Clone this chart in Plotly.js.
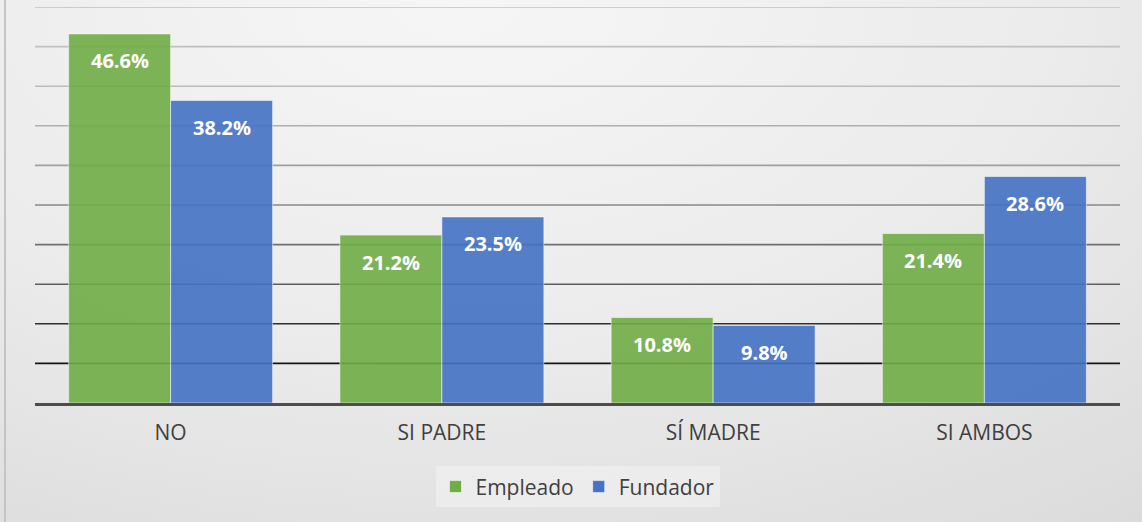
<!DOCTYPE html>
<html><head><meta charset="utf-8">
<script src="https://cdn.plot.ly/plotly-3.0.1.min.js"></script>
<style>
html,body{margin:0;padding:0;}
#wrap{position:relative;width:1142px;height:522px;background:radial-gradient(ellipse 120% 150% at 40% 0%, #f6f6f6 0%, #ebebeb 45%, #d4d4d4 100%);overflow:hidden}
#edge{position:absolute;left:4px;top:0;width:2px;height:522px;background:#c4c4c4}
#chart{position:absolute;left:0;top:0;width:1142px;height:522px}
</style></head><body>
<div id="wrap"><div id="edge"></div><div id="chart"></div></div>
<script>
const categories = ['NO', 'SI PADRE', 'SÍ MADRE', 'SI AMBOS'];
const empleado = [46.6, 21.2, 10.8, 21.4];
const fundador = [38.2, 23.5, 9.8, 28.6];
const seriesNames = ['Empleado', 'Fundador'];
const gridValues = [5, 10, 15, 20, 25, 30, 35, 40, 45, 50];
const gridColors = ['#161616', '#2e2e2e', '#5e5e5e', '#707070', '#888888', '#a0a0a0', '#b0b0b0', '#bcbcbc', '#c0c0c0', '#c2c2c2'];

const FONT = 'Open Sans, Liberation Sans, sans-serif';
const seriesData = [empleado, fundador];
const seriesColors = ['#70AD47', '#4472C4'];
const offsets = [-51, 51];

const traces = seriesData.map((vals, i) => ({
  type: 'bar',
  name: seriesNames[i],
  x: categories,
  y: vals,
  marker: {color: seriesColors[i], opacity: 0.9, line: {color: 'rgba(255,255,255,0.55)', width: 1}},
  hoverinfo: 'skip'
}));

const annotations = [];
seriesData.forEach((vals, i) => {
  vals.forEach((v, j) => {
    annotations.push({
      x: categories[j], y: v, xref: 'x', yref: 'y',
      text: v.toFixed(1) + '%', showarrow: false,
      xshift: offsets[i], yshift: -27, yanchor: 'middle',
      font: {family: FONT, size: 20, color: '#ffffff', weight: 700}
    });
  });
});

const shapes = gridValues.map((v, k) => ({
  type: 'line', xref: 'paper', x0: 0, x1: 1, yref: 'y', y0: v, y1: v,
  line: {color: gridColors[k], width: 1.6}, layer: 'below'
}));

const layout = {
  width: 1142, height: 522,
  margin: {l: 35, r: 22, t: 7, b: 119},
  paper_bgcolor: 'rgba(0,0,0,0)', plot_bgcolor: 'rgba(0,0,0,0)',
  font: {family: FONT, color: '#404040'},
  barmode: 'group', bargap: 0.248, bargroupgap: 0,
  showlegend: true,
  legend: {orientation: 'h', x: 0.5, xanchor: 'center', y: -0.212, yanchor: 'middle',
           bgcolor: 'rgba(242,242,242,0.6)', borderwidth: 0,
           font: {family: FONT, size: 21, color: '#404040'}},
  xaxis: {type: 'category', showline: true, linecolor: '#4d4d4d', linewidth: 3,
          showgrid: false, ticks: '', tickfont: {family: FONT, size: 21, color: '#404040'},
          ticklabelstandoff: 9, fixedrange: true},
  yaxis: {range: [0, 50], showgrid: false, zeroline: false, showticklabels: false, fixedrange: true},
  shapes: shapes,
  annotations: annotations
};

Plotly.newPlot('chart', traces, layout, {displayModeBar: false, staticPlot: true});
</script>
</body></html>
